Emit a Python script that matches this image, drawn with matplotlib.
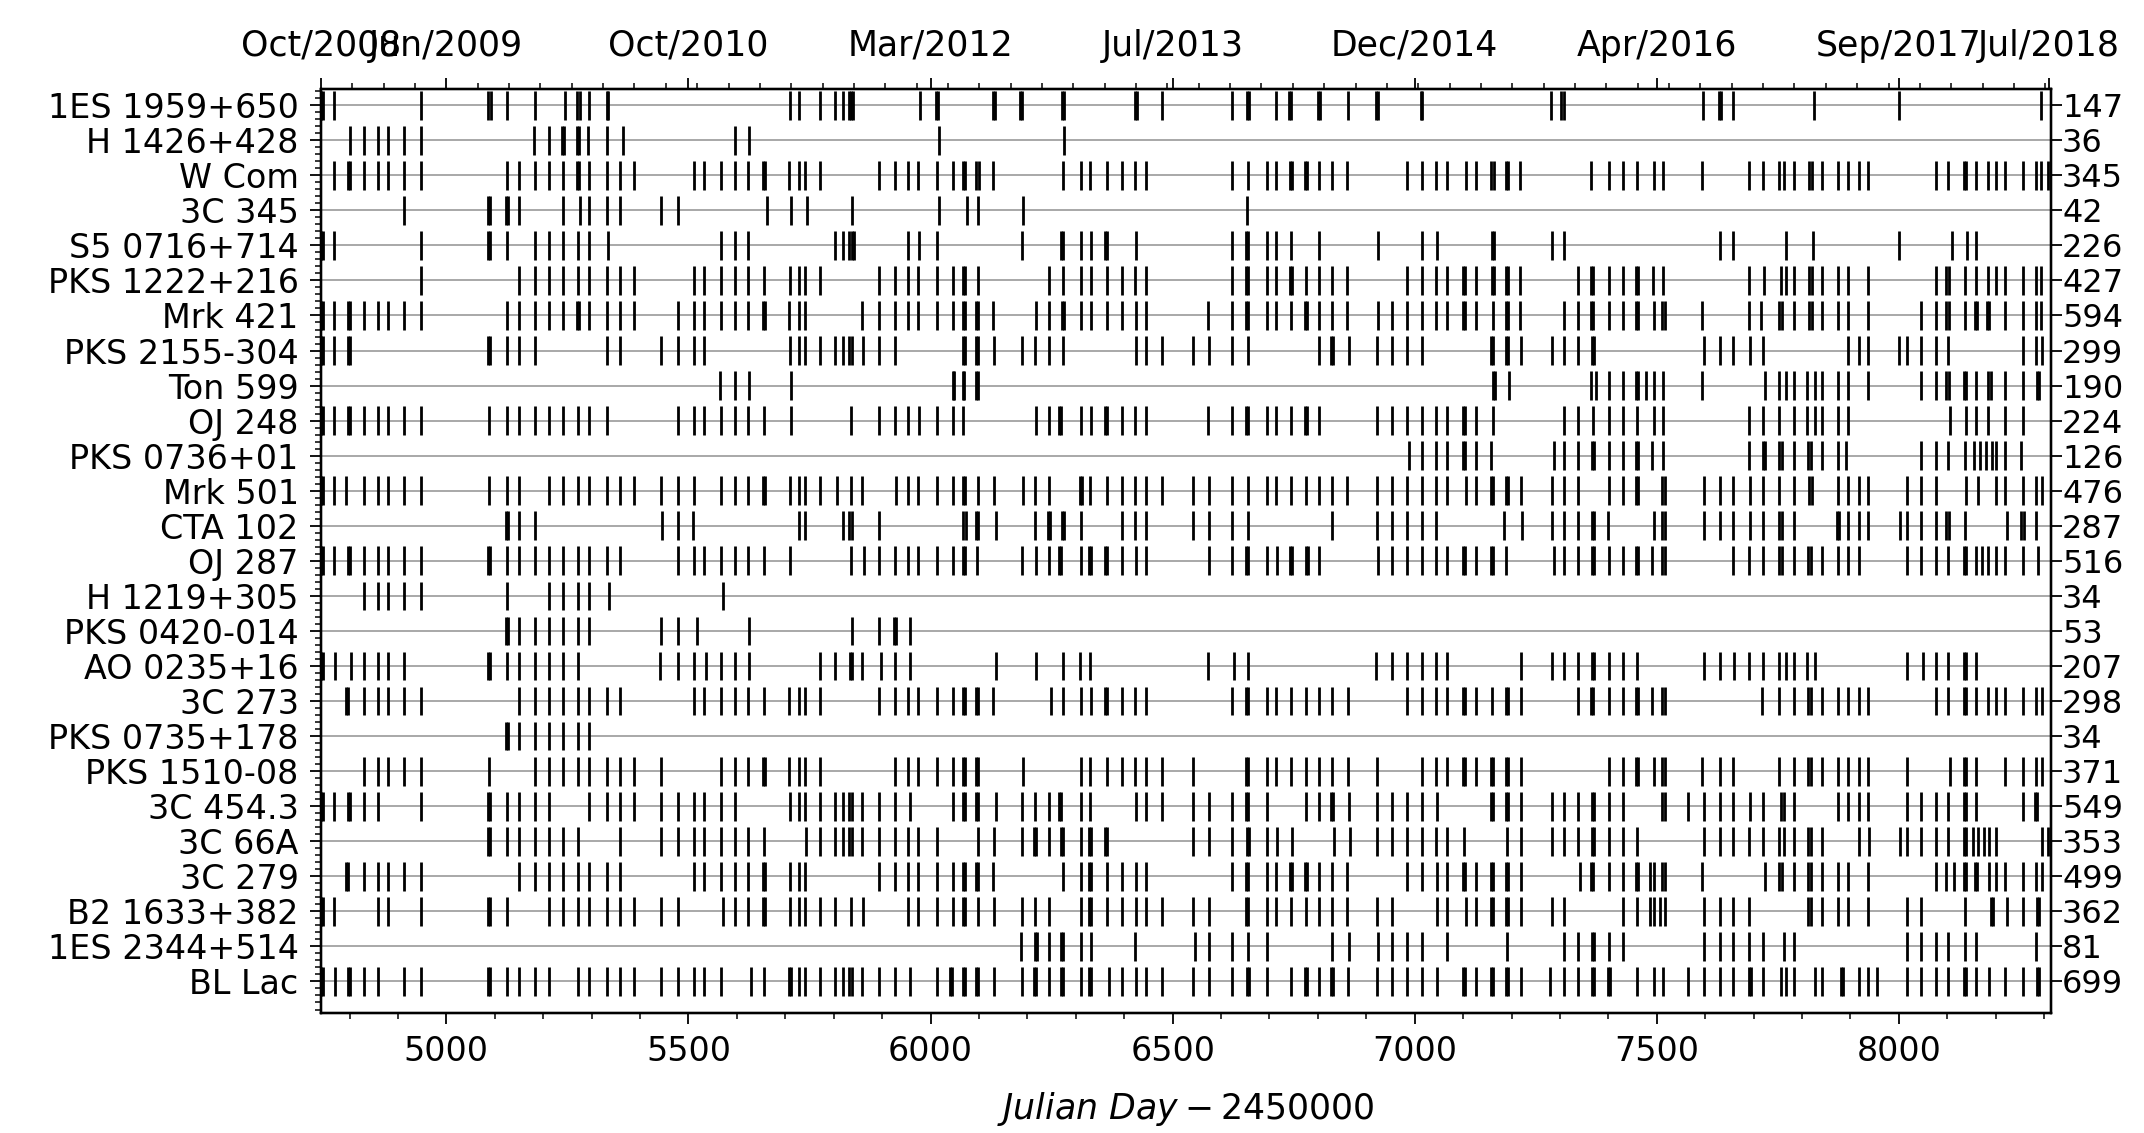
import matplotlib
matplotlib.use("Agg")
import matplotlib.pyplot as plt
from matplotlib.ticker import AutoMinorLocator, MultipleLocator

# ---------------- data ----------------
sources = ["1ES 1959+650", "H 1426+428", "W Com", "3C 345", "S5 0716+714",
           "PKS 1222+216", "Mrk 421", "PKS 2155-304", "Ton 599", "OJ 248",
           "PKS 0736+01", "Mrk 501", "CTA 102", "OJ 287", "H 1219+305",
           "PKS 0420-014", "AO 0235+16", "3C 273", "PKS 0735+178", "PKS 1510-08",
           "3C 454.3", "3C 66A", "3C 279", "B2 1633+382", "1ES 2344+514", "BL Lac"]
counts = [147, 36, 345, 42, 226, 427, 594, 299, 190, 224, 126, 476, 287, 516,
          34, 53, 207, 298, 34, 371, 549, 353, 499, 362, 81, 699]

top_tick_jd = [4741, 5000, 5500, 6000, 6500, 7000, 7500, 8000, 8310]
top_tick_labels = ["Oct/2008", "Jun/2009", "Oct/2010", "Mar/2012", "Jul/2013",
                   "Dec/2014", "Apr/2016", "Sep/2017", "Jul/2018"]

# observation dates (JD - 2450000)
obs_1es1959 = [4742, 4745, 4767, 4948, 5087, 5092, 5126, 5184, 5245, 5270, 5276, 5295, 5331, 5333,
               5710, 5728, 5771, 5803, 5819, 5832, 5836, 5840,
               5979, 6011, 6015, 6130, 6134, 6185, 6189, 6271, 6275, 6422, 6426, 6477, 6622, 6653,
               6657, 6713, 6740, 6744, 6800, 6804, 6862, 6920, 6924, 7012, 7016,
               7282, 7303, 7308, 7595, 7628, 7632, 7658, 7825, 8000, 8294]
obs_h1426 = [4801, 4829, 4859, 4880, 4913, 4948, 5180, 5212, 5238, 5242, 5269, 5273, 5293, 5331,
             5364, 5597, 5626, 6017, 6275]
obs_wcom = [4767, 4797, 4801, 4829, 4859, 4880, 4913, 4948, 5126, 5151, 5183, 5212, 5240, 5269,
            5274, 5295, 5331, 5359, 5387, 5512, 5533, 5567, 5597, 5623, 5653, 5658, 5708, 5728,
            5741, 5771, 5893, 5926,
            5953, 5974, 6013, 6047, 6067, 6072, 6094, 6100, 6129, 6273, 6310, 6329, 6364, 6395,
            6422, 6446, 6622, 6655, 6694, 6713, 6742, 6747, 6773, 6778, 6802, 6829, 6860, 6984,
            7016, 7043, 7066, 7105, 7126,
            7158, 7163, 7188, 7193, 7217, 7365, 7402, 7430, 7460, 7494, 7513, 7593, 7690, 7720,
            7752, 7763, 7783, 7815, 7820, 7841, 7875, 7894, 7918, 7936, 8077, 8101, 8134, 8139,
            8159, 8184, 8200, 8220, 8256, 8283, 8294, 8307]
obs_3c345 = [4913, 5087, 5091, 5124, 5128, 5151, 5240, 5275, 5295, 5331, 5359, 5444, 5478, 5662,
             5712, 5744, 5837, 6017, 6076, 6097, 6190, 6653]
obs_s50716 = [4742, 4745, 4767, 4948, 5087, 5091, 5126, 5183, 5212, 5240, 5271, 5295, 5333, 5567,
              5597, 5623, 5803, 5819, 5831, 5837, 5842,
              5953, 5977, 6013, 6188, 6269, 6274, 6310, 6331, 6360, 6364, 6425, 6622, 6651, 6656,
              6694, 6713, 6744, 6802, 6925, 7014, 7045,
              7160, 7164, 7283, 7309, 7630, 7658, 7767, 7823, 8000, 8110, 8140, 8159]
obs_pks1222 = [4948, 5151, 5183, 5212, 5240, 5271, 5295, 5331, 5359, 5387, 5512, 5533, 5567, 5597,
               5623, 5656, 5710, 5728, 5741, 5771, 5894, 5926,
               5953, 5974, 6013, 6047, 6066, 6071, 6097, 6244, 6273, 6310, 6331, 6364, 6395, 6422,
               6446, 6622, 6651, 6656, 6694, 6713, 6742, 6747, 6775, 6802, 6829, 6860, 6984, 7016,
               7043, 7066, 7099, 7104, 7126,
               7160, 7164, 7188, 7193, 7217, 7337, 7364, 7369, 7402, 7430, 7457, 7462, 7492, 7513,
               7690, 7721, 7756, 7767, 7783, 7815, 7820, 7841, 7875, 7894, 7936, 8077, 8098, 8103,
               8137, 8159, 8184, 8200, 8220, 8256, 8283, 8294]
obs_mrk421 = [4742, 4745, 4767, 4796, 4800, 4829, 4859, 4880, 4913, 4948, 5126, 5151, 5183, 5212,
              5240, 5269, 5274, 5295, 5331, 5359, 5387, 5478, 5512, 5533, 5567, 5597, 5623, 5653,
              5658, 5708, 5728, 5741, 5859, 5894, 5926,
              5953, 5974, 6013, 6047, 6066, 6071, 6094, 6099, 6129, 6217, 6244, 6271, 6275, 6310,
              6331, 6364, 6395, 6425, 6446, 6574, 6622, 6651, 6656, 6694, 6713, 6744, 6773, 6778,
              6802, 6829, 6860, 6925, 6953, 6984, 7016, 7043, 7066, 7099, 7104, 7126,
              7162, 7188, 7193, 7217, 7309, 7337, 7364, 7369, 7402, 7430, 7457, 7462, 7494, 7511,
              7516, 7593, 7690, 7716, 7753, 7758, 7783, 7815, 7820, 7841, 7875, 7894, 7936, 8045,
              8077, 8098, 8103, 8137, 8157, 8161, 8182, 8187, 8220, 8256, 8283, 8294]
obs_pks2155 = [4742, 4745, 4767, 4796, 4800, 5087, 5091, 5126, 5151, 5183, 5331, 5359, 5443, 5478,
               5512, 5533, 5709, 5728, 5741, 5772, 5803, 5819, 5832, 5837, 5860, 5894, 5926,
               6066, 6071, 6094, 6099, 6132, 6188, 6215, 6244, 6273, 6424, 6446, 6477, 6543, 6576,
               6622, 6655, 6802, 6827, 6831, 6864, 6922, 6953, 6984, 7016,
               7158, 7162, 7188, 7193, 7220, 7283, 7309, 7337, 7366, 7371, 7597, 7630, 7658, 7692,
               7720, 7894, 7918, 7936, 8000, 8017, 8045, 8077, 8101, 8256, 8283, 8295]
obs_ton599 = [5565, 5597, 5626, 5712, 6047, 6049, 6066, 6070, 6094, 6098,
              7162, 7166, 7194, 7365, 7375, 7402, 7430, 7457, 7462, 7478, 7494, 7513, 7593, 7724,
              7752, 7767, 7783, 7811, 7827, 7841, 7875, 7894, 7936, 8045, 8077, 8098, 8103, 8134,
              8139, 8159, 8185, 8190, 8220, 8256, 8285, 8290]
obs_oj248 = [4742, 4745, 4767, 4796, 4800, 4829, 4859, 4880, 4913, 4948, 5089, 5126, 5151, 5183,
             5212, 5240, 5271, 5295, 5331, 5478, 5512, 5533, 5567, 5597, 5623, 5655, 5712, 5835,
             5894, 5926,
             5953, 5977, 6013, 6047, 6066, 6217, 6244, 6265, 6270, 6310, 6331, 6360, 6364, 6395,
             6422, 6446, 6574, 6622, 6651, 6656, 6694, 6713, 6744, 6773, 6778, 6802, 6922, 6953,
             6984, 7016, 7043, 7066, 7099, 7104, 7126,
             7162, 7309, 7337, 7369, 7402, 7430, 7460, 7494, 7513, 7690, 7720, 7752, 7783, 7811,
             7827, 7841, 7875, 7894, 8105, 8138, 8159, 8184, 8220, 8256]
obs_pks0736 = [6988, 7016, 7043, 7066, 7099, 7104, 7126,
               7158, 7287, 7309, 7337, 7366, 7371, 7402, 7430, 7457, 7462, 7490, 7513, 7690, 7719,
               7724, 7753, 7758, 7783, 7813, 7818, 7841, 7875, 7890, 8045, 8077, 8101, 8137, 8156,
               8168, 8180, 8192, 8200, 8220, 8252]
obs_mrk501 = [4742, 4745, 4767, 4792, 4829, 4859, 4880, 4913, 4948, 5089, 5126, 5151, 5212, 5240,
              5271, 5295, 5331, 5359, 5387, 5443, 5478, 5512, 5567, 5597, 5623, 5653, 5658, 5709,
              5728, 5741, 5771, 5807, 5836, 5859, 5929,
              5953, 5974, 6013, 6047, 6066, 6071, 6097, 6132, 6190, 6215, 6244, 6308, 6312, 6329,
              6364, 6395, 6422, 6446, 6478, 6543, 6576, 6622, 6655, 6694, 6713, 6744, 6775, 6802,
              6829, 6860, 6922, 6953, 6984, 7016, 7043, 7066, 7105, 7126,
              7158, 7162, 7188, 7193, 7220, 7283, 7309, 7337, 7402, 7430, 7457, 7462, 7511, 7516,
              7597, 7630, 7658, 7692, 7720, 7752, 7783, 7815, 7820, 7875, 7894, 7918, 7936, 8017,
              8045, 8077, 8138, 8164, 8200, 8220, 8256, 8283, 8295]
obs_cta102 = [5124, 5128, 5151, 5183, 5446, 5478, 5510, 5728, 5741, 5819, 5832, 5837, 5894,
              6068, 6074, 6094, 6098, 6136, 6215, 6242, 6246, 6271, 6275, 6310, 6395, 6422, 6446,
              6543, 6576, 6622, 6655, 6829, 6922, 6953, 6984, 7016, 7043,
              7184, 7222, 7283, 7309, 7337, 7366, 7371, 7400, 7494, 7511, 7516, 7597, 7630, 7658,
              7692, 7720, 7753, 7758, 7783, 7873, 7877, 7894, 7918, 7936, 8002, 8017, 8045, 8077,
              8098, 8103, 8137, 8224, 8253, 8258, 8283]
obs_oj287 = [4742, 4745, 4767, 4796, 4800, 4829, 4859, 4880, 4913, 4948, 5087, 5091, 5126, 5151,
             5183, 5212, 5240, 5271, 5295, 5331, 5359, 5478, 5512, 5533, 5567, 5597, 5623, 5655,
             5710, 5836, 5863, 5894, 5926,
             5953, 5974, 6013, 6047, 6066, 6071, 6095, 6188, 6217, 6244, 6265, 6270, 6310, 6327,
             6332, 6360, 6364, 6395, 6425, 6446, 6576, 6622, 6651, 6656, 6694, 6715, 6742, 6747,
             6775, 6780, 6802, 6925, 6953, 6984, 7016, 7043, 7066, 7099, 7104, 7126,
             7158, 7162, 7188, 7287, 7309, 7337, 7366, 7371, 7402, 7430, 7457, 7462, 7490, 7511,
             7516, 7658, 7690, 7720, 7753, 7758, 7783, 7813, 7818, 7841, 7875, 7894, 7918, 8017,
             8045, 8077, 8101, 8134, 8139, 8159, 8172, 8184, 8200, 8220, 8256, 8287]
obs_h1219 = [4829, 4859, 4880, 4913, 4948, 5126, 5212, 5240, 5271, 5295, 5336, 5571]
obs_pks0420 = [5124, 5128, 5151, 5183, 5212, 5240, 5271, 5295, 5444, 5478, 5517, 5626, 5837, 5894,
               5924, 5928, 5957]
obs_ao0235 = [4742, 4745, 4771, 4803, 4829, 4859, 4880, 4913, 5087, 5091, 5126, 5151, 5183, 5212,
              5240, 5271, 5442, 5478, 5512, 5537, 5567, 5597, 5626, 5771, 5803, 5833, 5838, 5859,
              5898, 5926,
              5957, 6136, 6217, 6273, 6308, 6329, 6574, 6626, 6655, 6921, 6953, 6984, 7016, 7043,
              7066,
              7220, 7283, 7309, 7337, 7366, 7371, 7402, 7430, 7460, 7597, 7630, 7660, 7690, 7720,
              7752, 7767, 7783, 7811, 7827, 8017, 8049, 8077, 8101, 8134, 8139, 8160]
obs_3c273 = [4793, 4797, 4829, 4859, 4880, 4913, 4948, 5151, 5183, 5212, 5240, 5271, 5295, 5331,
             5359, 5512, 5533, 5567, 5597, 5623, 5655, 5708, 5728, 5741, 5771, 5894, 5926,
             5953, 5974, 6013, 6047, 6066, 6071, 6094, 6099, 6129, 6248, 6273, 6310, 6331, 6360,
             6364, 6395, 6422, 6446, 6622, 6651, 6656, 6694, 6713, 6744, 6775, 6802, 6829, 6863,
             6984, 7016, 7043, 7066, 7099, 7104, 7126,
             7160, 7188, 7193, 7220, 7337, 7364, 7369, 7402, 7430, 7457, 7462, 7490, 7511, 7516,
             7717, 7752, 7783, 7813, 7818, 7841, 7875, 7894, 7918, 7936, 8077, 8101, 8134, 8139,
             8159, 8184, 8200, 8220, 8256, 8283, 8295]
obs_pks0735 = [5124, 5128, 5151, 5183, 5212, 5240, 5271, 5295]
obs_pks1510 = [4829, 4859, 4880, 4913, 4948, 5089, 5183, 5212, 5240, 5271, 5295, 5331, 5359, 5387,
               5443, 5567, 5597, 5623, 5653, 5658, 5708, 5728, 5741, 5772, 5926,
               5953, 5974, 6013, 6047, 6066, 6071, 6094, 6099, 6190, 6310, 6329, 6364, 6395, 6422,
               6446, 6478, 6543, 6651, 6656, 6694, 6713, 6744, 6775, 6802, 6829, 6863, 6922, 7016,
               7043, 7066, 7099, 7104, 7126,
               7158, 7162, 7188, 7193, 7220, 7402, 7430, 7457, 7462, 7494, 7511, 7516, 7593, 7630,
               7658, 7752, 7783, 7813, 7818, 7841, 7875, 7894, 7918, 7936, 8017, 8105, 8134, 8139,
               8159, 8220, 8256, 8283, 8295]
obs_3c454 = [4742, 4745, 4767, 4796, 4800, 4829, 4859, 4948, 5087, 5091, 5126, 5151, 5183, 5212,
             5295, 5331, 5359, 5387, 5443, 5478, 5512, 5533, 5567, 5597, 5709, 5728, 5741, 5772,
             5803, 5819, 5832, 5837, 5859, 5894, 5926,
             5957, 6047, 6066, 6071, 6094, 6099, 6136, 6188, 6215, 6244, 6265, 6270, 6310, 6329,
             6424, 6446, 6478, 6543, 6576, 6622, 6651, 6656, 6694, 6775, 6802, 6827, 6831, 6864,
             6922, 6953, 6984, 7016, 7045,
             7158, 7162, 7188, 7193, 7220, 7283, 7309, 7337, 7366, 7371, 7402, 7430, 7511, 7516,
             7565, 7597, 7630, 7658, 7692, 7720, 7756, 7763, 7783, 7875, 7894, 7918, 7936, 8017,
             8045, 8077, 8101, 8134, 8139, 8159, 8256, 8281, 8286]
obs_3c66a = [5087, 5091, 5126, 5151, 5183, 5212, 5240, 5271, 5359, 5443, 5478, 5512, 5533, 5567,
             5597, 5623, 5655, 5742, 5772, 5803, 5819, 5832, 5837, 5859, 5894, 5926,
             5953, 5974, 6013, 6098, 6132, 6188, 6213, 6217, 6244, 6269, 6273, 6310, 6327, 6332,
             6360, 6364, 6543, 6576, 6622, 6653, 6657, 6694, 6715, 6746, 6833, 6866, 6922, 6953,
             6984, 7016, 7043, 7066, 7101,
             7190, 7220, 7283, 7309, 7337, 7366, 7371, 7402, 7430, 7460, 7597, 7630, 7658, 7690,
             7720, 7752, 7763, 7783, 7813, 7818, 7841, 7918, 7938, 8002, 8017, 8045, 8077, 8101,
             8134, 8139, 8152, 8164, 8176, 8187, 8200, 8295, 8307]
obs_3c279 = [4793, 4797, 4829, 4859, 4880, 4913, 4948, 5151, 5183, 5212, 5240, 5271, 5295, 5331,
             5359, 5512, 5533, 5567, 5597, 5623, 5653, 5658, 5709, 5728, 5741, 5894, 5926,
             5953, 5974, 6013, 6047, 6066, 6071, 6094, 6099, 6129, 6273, 6310, 6327, 6332, 6364,
             6395, 6425, 6446, 6622, 6651, 6656, 6694, 6713, 6742, 6747, 6773, 6778, 6802, 6829,
             6860, 6984, 7016, 7045, 7066, 7099, 7104, 7126,
             7158, 7162, 7188, 7193, 7220, 7341, 7364, 7369, 7402, 7430, 7457, 7462, 7486, 7494,
             7511, 7516, 7593, 7724, 7753, 7758, 7783, 7813, 7818, 7841, 7875, 7894, 7936, 8077,
             8097, 8113, 8134, 8139, 8157, 8161, 8187, 8200, 8220, 8256, 8283, 8295]
obs_b21633 = [4742, 4745, 4767, 4859, 4880, 4948, 5087, 5091, 5126, 5212, 5240, 5271, 5295, 5331,
              5359, 5387, 5443, 5478, 5571, 5597, 5623, 5653, 5658, 5709, 5728, 5741, 5772, 5803,
              5836, 5860,
              5953, 5974, 6013, 6047, 6066, 6071, 6098, 6132, 6188, 6215, 6244, 6310, 6327, 6332,
              6364, 6395, 6425, 6446, 6478, 6543, 6576, 6651, 6656, 6694, 6713, 6744, 6775, 6802,
              6829, 6860, 6922, 6953, 7045, 7066, 7105, 7126,
              7158, 7162, 7188, 7193, 7220, 7283, 7309, 7430, 7460, 7486, 7494, 7506, 7517, 7597,
              7630, 7658, 7690, 7813, 7818, 7841, 7875, 7894, 7936, 8017, 8045, 8137, 8190, 8195,
              8224, 8256, 8285, 8290]
obs_1es2344 = [6186, 6215, 6219, 6244, 6269, 6273, 6310, 6331, 6422, 6547, 6576, 6622, 6655, 6694,
               6829, 6864, 6925, 6953, 6984, 7016, 7066,
               7190, 7309, 7337, 7366, 7371, 7402, 7430, 7597, 7630, 7658, 7690, 7720, 7763, 7783,
               8017, 8045, 8077, 8101, 8137, 8159, 8283]
obs_bllac = [4742, 4745, 4771, 4796, 4800, 4829, 4859, 4913, 4948, 5087, 5091, 5126, 5151, 5183,
             5212, 5271, 5295, 5331, 5359, 5387, 5443, 5478, 5512, 5533, 5567, 5629, 5655, 5707,
             5711, 5728, 5741, 5772, 5803, 5819, 5832, 5837, 5859, 5894, 5926,
             5957, 6013, 6041, 6045, 6066, 6071, 6094, 6099, 6132, 6188, 6213, 6217, 6244, 6269,
             6273, 6310, 6327, 6332, 6368, 6395, 6425, 6446, 6478, 6543, 6576, 6622, 6653, 6657,
             6694, 6744, 6773, 6778, 6802, 6827, 6831, 6863, 6922, 6953, 6984, 7016, 7045, 7099,
             7104, 7126,
             7158, 7162, 7188, 7193, 7220, 7279, 7309, 7337, 7366, 7371, 7400, 7404, 7460, 7494,
             7513, 7565, 7597, 7630, 7658, 7690, 7695, 7720, 7756, 7767, 7783, 7827, 7841, 7880,
             7885, 7918, 7936, 7954, 8017, 8045, 8077, 8101, 8134, 8139, 8159, 8187, 8220, 8256,
             8285, 8290]

observations = [obs_1es1959, obs_h1426, obs_wcom, obs_3c345, obs_s50716, obs_pks1222,
                obs_mrk421, obs_pks2155, obs_ton599, obs_oj248, obs_pks0736, obs_mrk501,
                obs_cta102, obs_oj287, obs_h1219, obs_pks0420, obs_ao0235, obs_3c273,
                obs_pks0735, obs_pks1510, obs_3c454, obs_3c66a, obs_3c279, obs_b21633,
                obs_1es2344, obs_bllac]

x_range = (4741, 8314)

# ---------------- plot ----------------
plt.rcParams["font.family"] = ["DejaVu Sans"]
fig = plt.figure(figsize=(21.44, 11.33), dpi=100)
ax = fig.add_axes([0.1497, 0.1059, 0.8069, 0.8155])

rows = list(range(len(sources)))
for r in rows:
    ax.axhline(r, color="#a8a8a8", lw=1.4, zorder=0)
ax.eventplot(observations, lineoffsets=rows, linelengths=0.82,
             colors="black", linewidths=2.0, zorder=2)

ax.set_xlim(*x_range)
ax.set_ylim(25.9, -0.46)
ax.set_yticks(rows)
ax.set_yticklabels(sources, fontsize=24)
ax.yaxis.set_minor_locator(AutoMinorLocator(5))
ax.xaxis.set_major_locator(MultipleLocator(500))
ax.xaxis.set_minor_locator(MultipleLocator(100))
ax.tick_params(axis="x", which="major", labelsize=24)
ax.set_xlabel(r"$Julian\ Day - 2450000$", fontsize=25, labelpad=16)

axr = ax.twinx()
axr.set_ylim(ax.get_ylim())
axr.set_yticks(rows)
axr.set_yticklabels([str(c) for c in counts], fontsize=23)

axt = ax.twiny()
axt.set_xlim(ax.get_xlim())
axt.set_xticks(top_tick_jd)
axt.set_xticklabels(top_tick_labels, fontsize=25)
axt.xaxis.set_minor_locator(AutoMinorLocator())

for a in (ax, axr, axt):
    a.tick_params(which="major", direction="out", length=8, width=1.3)
    a.tick_params(which="minor", direction="out", length=4.5, width=1.1)
    for s in a.spines.values():
        s.set_linewidth(1.6)
ax.tick_params(axis="y", which="major", pad=8)
ax.tick_params(axis="x", which="major", pad=8)
axt.tick_params(axis="x", which="major", pad=11)
axr.tick_params(axis="y", which="major", pad=0)

fig.savefig("out.png", dpi=100)
